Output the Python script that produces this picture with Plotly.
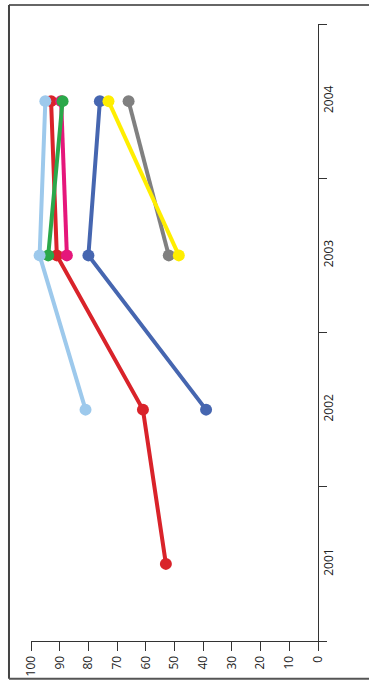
import plotly.graph_objects as go

years = ["2001", "2002", "2003", "2004"]
value_ticks = [0, 10, 20, 30, 40, 50, 60, 70, 80, 90, 100]

red_years = ["2001", "2002", "2003", "2004"]
red_vals = [53, 61, 91, 93]
blue_years = ["2002", "2003", "2004"]
blue_vals = [39, 80, 76]
pink_years = ["2003", "2004"]
pink_vals = [87.5, 89.5]
green_years = ["2003", "2004"]
green_vals = [94, 89]
lightblue_years = ["2002", "2003", "2004"]
lightblue_vals = [81, 97, 95]
gray_years = ["2003", "2004"]
gray_vals = [52, 66]
yellow_years = ["2003", "2004"]
yellow_vals = [48.5, 73]

series = [
    (red_years, red_vals, "#D9232A"),
    (blue_years, blue_vals, "#4666B0"),
    (pink_years, pink_vals, "#E5177B"),
    (green_years, green_vals, "#2BA84A"),
    (lightblue_years, lightblue_vals, "#9DC9EC"),
    (gray_years, gray_vals, "#808080"),
    (yellow_years, yellow_vals, "#FFEE00"),
]

fig = go.Figure()
for ys, xs, col in series:
    fig.add_trace(go.Scatter(
        x=xs, y=ys, mode="lines+markers",
        line=dict(color=col, width=4),
        marker=dict(color=col, size=12),
        showlegend=False, hoverinfo="skip",
    ))

fig.update_layout(
    width=369, height=688,
    margin=dict(l=31, r=51, t=24, b=43),
    paper_bgcolor="white", plot_bgcolor="white",
    font=dict(family="Open Sans, sans-serif", size=12, color="#222"),
    xaxis=dict(
        range=[100, 0], tickvals=value_ticks, ticktext=[str(v) for v in value_ticks],
        tickangle=-90, showline=True, linecolor="#333", linewidth=1,
        ticks="outside", ticklen=9, tickcolor="#333", showgrid=False,
        zeroline=False, fixedrange=True,
    ),
    yaxis=dict(
        type="category", categoryorder="array", categoryarray=years,
        range=[-0.5, 3.5], side="right", tickson="boundaries",
        tickangle=-90, showline=True, linecolor="#333", linewidth=1,
        ticks="outside", ticklen=8, tickcolor="#333", showgrid=False,
        zeroline=False, fixedrange=True,
    ),
    shapes=[
        dict(type="line", xref="paper", yref="paper", x0=-0.0767, x1=1.2, y0=1.0306, y1=1.0306,
             line=dict(color="#666", width=2)),
        dict(type="line", xref="paper", yref="paper", x0=-0.0767, x1=-0.0767, y0=1.0306, y1=-0.0612,
             line=dict(color="#444", width=2)),
        dict(type="line", xref="paper", yref="paper", x0=-0.0767, x1=1.2, y0=-0.0612, y1=-0.0612,
             line=dict(color="#555", width=2)),
    ],
)

fig.write_html("out.html", config={"displayModeBar": False},
               post_script="document.body.style.margin='0';")
